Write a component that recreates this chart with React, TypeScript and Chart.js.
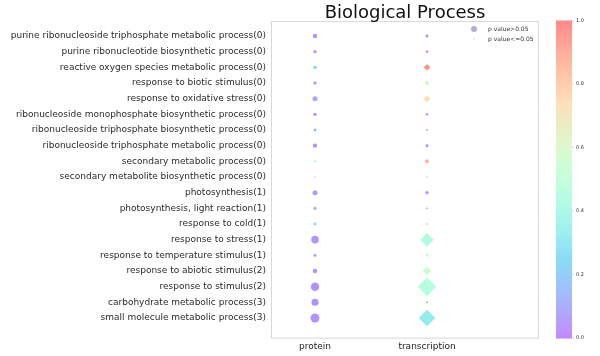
import React, { useEffect, useRef } from 'react';
import { Chart, registerables } from 'chart.js';

Chart.register(...registerables);

const title = 'Biological Process';
const categories = [
  'purine ribonucleoside triphosphate metabolic process(0)',
  'purine ribonucleotide biosynthetic process(0)',
  'reactive oxygen species metabolic process(0)',
  'response to biotic stimulus(0)',
  'response to oxidative stress(0)',
  'ribonucleoside monophosphate biosynthetic process(0)',
  'ribonucleoside triphosphate biosynthetic process(0)',
  'ribonucleoside triphosphate metabolic process(0)',
  'secondary metabolic process(0)',
  'secondary metabolite biosynthetic process(0)',
  'photosynthesis(1)',
  'photosynthesis, light reaction(1)',
  'response to cold(1)',
  'response to stress(1)',
  'response to temperature stimulus(1)',
  'response to abiotic stimulus(2)',
  'response to stimulus(2)',
  'carbohydrate metabolic process(3)',
  'small molecule metabolic process(3)',
];
const columns = ['protein', 'transcription'];
const proteinSize = [4.4, 3.4, 3.4, 3.4, 5, 3.4, 3.1, 4.2, 1.8, 1.5, 5, 3.1, 2.8, 7.6, 3.1, 4.5, 8.5, 7, 9];
const transcriptionSize = [4, 3.4, 6.6, 5.6, 7, 3.4, 2.5, 3.8, 4.6, 1.7, 4.2, 2.2, 1.8, 13.5, 4, 8.5, 18.5, 2.2, 16.5];
const proteinColorValue = [0.05, 0.08, 0.22, 0.1, 0.1, 0.06, 0.15, 0.05, 0.3, 0.3, 0.08, 0.1, 0.22, 0.05, 0.1, 0.05, 0.05, 0.05, 0.05];
const transcriptionColorValue = [0.08, 0.08, 0.95, 0.6, 0.72, 0.08, 0.15, 0.05, 0.88, 0.1, 0.08, 0.1, 0.2, 0.45, 0.55, 0.55, 0.46, 0.05, 0.32];
const colorbarTicks = [0, 0.2, 0.4, 0.6, 0.8, 1.0];
const legendLabels = ['p value>0.05', 'p value<=0.05'];

const FONT = "'DejaVu Sans', sans-serif";

function rainbow(v: number, a: number) {
  const r = Math.min(1, Math.abs(2 * v - 0.5));
  const g = Math.sin(Math.PI * v);
  const b = Math.cos((Math.PI * v) / 2);
  return `rgba(${Math.round(r * 255)},${Math.round(g * 255)},${Math.round(b * 255)},${a})`;
}

const decorPlugin = {
  id: 'decor',
  beforeDatasetsDraw(chart: any) {
    const { ctx, chartArea } = chart;
    ctx.save();
    ctx.strokeStyle = '#d0d0d0';
    ctx.lineWidth = 0.8;
    ctx.strokeRect(chartArea.left + 0.5, chartArea.top + 0.5, chartArea.right - chartArea.left - 1, chartArea.bottom - chartArea.top - 1);
    ctx.restore();
  },
  afterDraw(chart: any) {
    const { ctx, chartArea } = chart;
    ctx.save();
    // title
    ctx.fillStyle = '#111';
    ctx.font = `18px ${FONT}`;
    ctx.textAlign = 'center';
    ctx.textBaseline = 'alphabetic';
    ctx.fillText(title, (chartArea.left + chartArea.right) / 2, 18);

    // legend
    const lx = chartArea.right - 65;
    const ly = chartArea.top + 8;
    ctx.fillStyle = 'rgba(165,165,205,0.9)';
    ctx.beginPath();
    ctx.arc(lx, ly, 3, 0, Math.PI * 2);
    ctx.fill();
    ctx.fillStyle = 'rgba(180,180,200,0.8)';
    ctx.beginPath();
    ctx.arc(lx, ly + 10, 0.7, 0, Math.PI * 2);
    ctx.fill();
    ctx.fillStyle = '#333';
    ctx.font = `6px ${FONT}`;
    ctx.textAlign = 'left';
    ctx.textBaseline = 'middle';
    ctx.fillText(legendLabels[0], lx + 14, ly);
    ctx.fillText(legendLabels[1], lx + 14, ly + 10);

    // colorbar
    const cx0 = 556, cx1 = 572, cy0 = 20.5, cy1 = 338;
    const h = cy1 - cy0;
    for (let i = 0; i < Math.ceil(h); i++) {
      const v = 1 - i / h;
      ctx.fillStyle = rainbow(v, 0.5);
      ctx.fillRect(cx0, cy0 + i, cx1 - cx0, 1.05);
    }
    ctx.fillStyle = '#333';
    ctx.font = `5px ${FONT}`;
    ctx.textAlign = 'left';
    ctx.textBaseline = 'middle';
    colorbarTicks.forEach((t) => {
      const y = cy1 - t * h;
      ctx.strokeStyle = '#aaa';
      ctx.lineWidth = 0.5;
      ctx.beginPath();
      ctx.moveTo(cx1, y);
      ctx.lineTo(cx1 + 2, y);
      ctx.stroke();
      ctx.fillText(t.toFixed(1), cx1 + 4, y);
    });
    ctx.restore();
  },
};

export default function App() {
  const ref = useRef<HTMLCanvasElement | null>(null);
  useEffect(() => {
    document.body.style.margin = '0';
    const canvas = ref.current!;
    const mk = (sizes: number[], vals: number[], col: number) =>
      categories.map((_, i) => ({ x: col, y: i, r: sizes[i] / 2, c: rainbow(vals[i], 0.5) }));
    const pData = mk(proteinSize, proteinColorValue, 0);
    const tData = mk(transcriptionSize, transcriptionColorValue, 1);
    const chart = new Chart(canvas, {
      type: 'scatter',
      data: {
        datasets: [
          {
            label: columns[0],
            data: pData,
            pointStyle: 'circle',
            pointRadius: pData.map((d) => d.r),
            pointBackgroundColor: pData.map((d) => d.c),
            pointBorderWidth: 0,
            pointHoverRadius: pData.map((d) => d.r),
          } as any,
          {
            label: columns[1],
            data: tData,
            pointStyle: 'rectRot',
            pointRadius: tData.map((d) => d.r),
            pointBackgroundColor: tData.map((d) => d.c),
            pointBorderWidth: 0,
            pointHoverRadius: tData.map((d) => d.r),
          } as any,
        ],
      },
      options: {
        animation: false,
        responsive: false,
        events: [],
        layout: { padding: { top: 21, right: 61, left: 0, bottom: 0 } },
        plugins: { legend: { display: false }, title: { display: false }, tooltip: { enabled: false } },
        scales: {
          x: {
            type: 'linear',
            min: -0.393,
            max: 2.0,
            grid: { display: false, drawTicks: false },
            border: { display: false },
            afterBuildTicks: (s: any) => { s.ticks = columns.map((_, i) => ({ value: i })); },
            afterFit: (s: any) => { s.height = 17.4; },
            ticks: {
              padding: 3,
              color: '#222',
              font: { family: FONT, size: 9 },
              callback: (v: any) => columns[v] ?? '',
              maxRotation: 0,
              autoSkip: false,
            },
          },
          y: {
            type: 'linear',
            reverse: true,
            min: -0.957,
            max: 19.315,
            grid: { display: false, drawTicks: false },
            border: { display: false },
            afterBuildTicks: (s: any) => { s.ticks = categories.map((_, i) => ({ value: i })); },
            afterFit: (s: any) => { s.width = 271; },
            ticks: {
              padding: 5,
              color: '#2a2a2a',
              font: { family: FONT, size: 9 },
              callback: (v: any) => categories[v] ?? '',
              autoSkip: false,
            },
          },
        },
      },
      plugins: [decorPlugin],
    } as any);
    return () => chart.destroy();
  }, []);
  return (
    <div style={{ position: 'absolute', left: 0, top: 0, width: 600, height: 356 }}>
      <canvas ref={ref} width={600} height={356} />
    </div>
  );
}
